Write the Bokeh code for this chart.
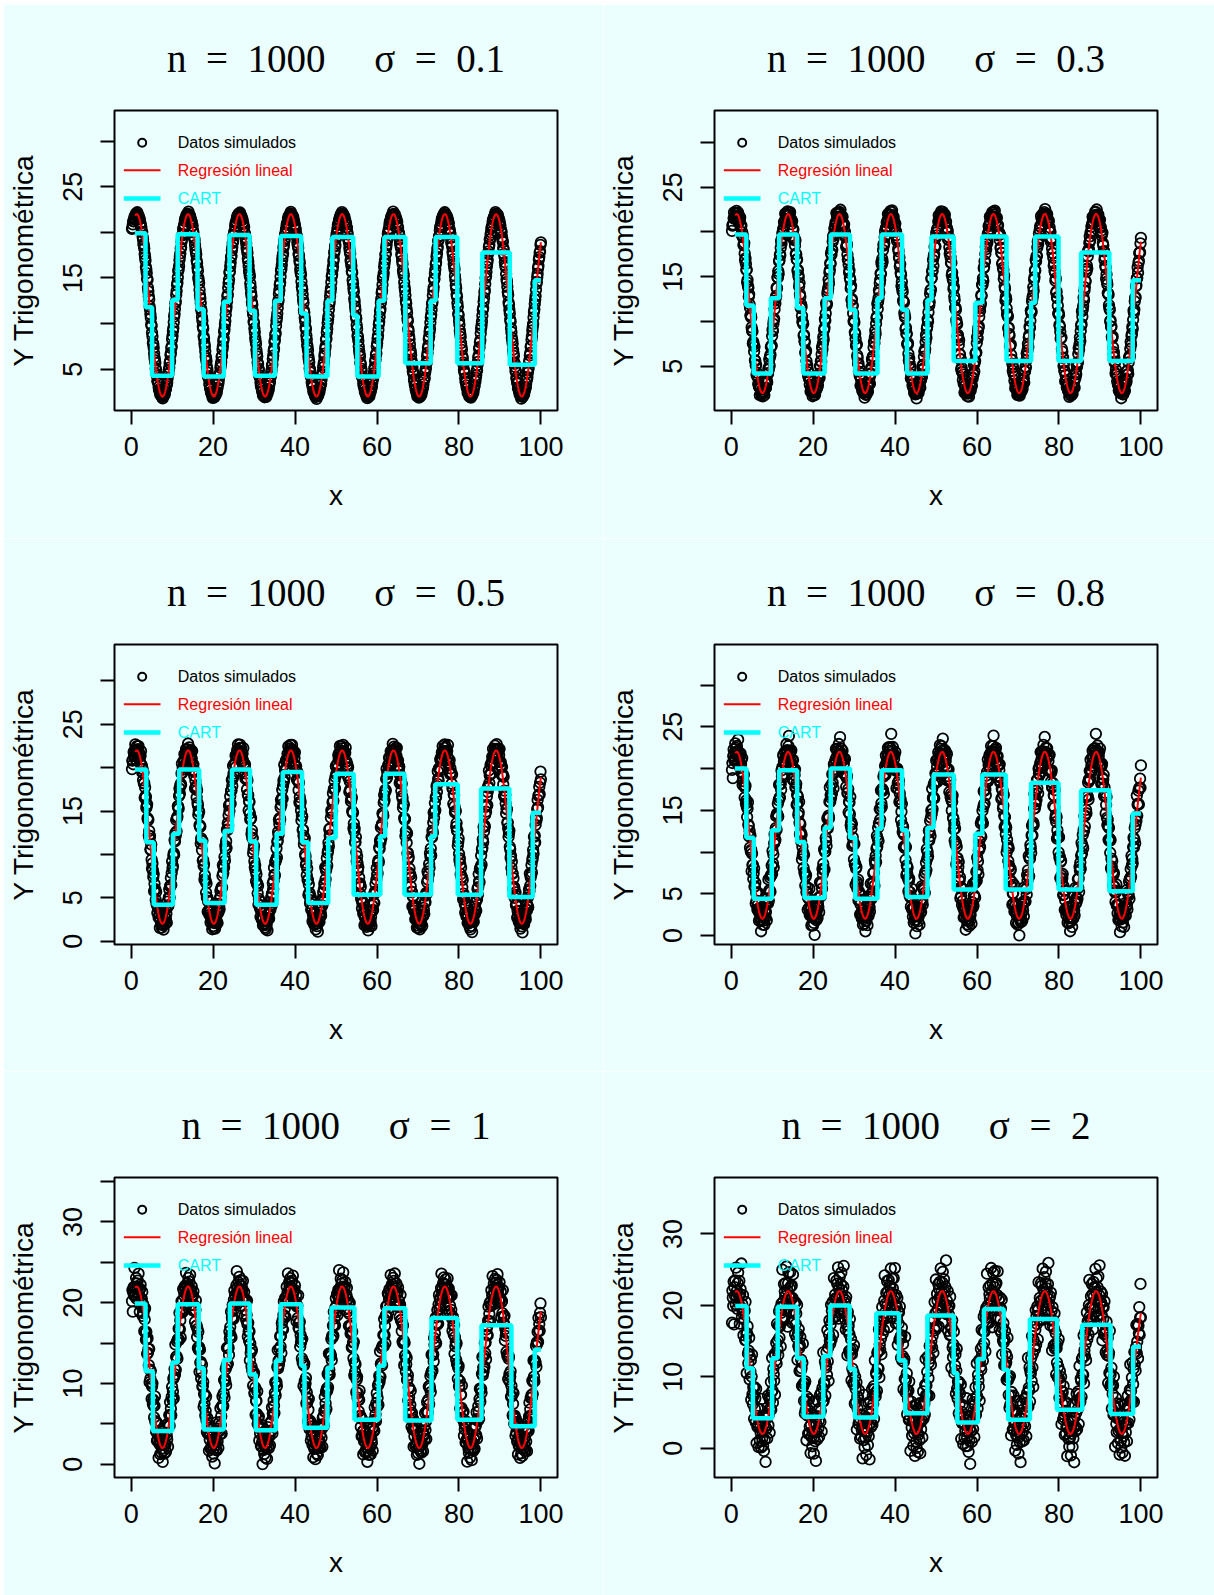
import numpy as np
from bokeh.plotting import figure
from bokeh.layouts import column, row
from bokeh.models import Range1d, FixedTicker, Spacer, Title
from bokeh.core.properties import value
from bokeh.embed import file_html
from bokeh.resources import INLINE

# ---------------------------------------------------------------------------
# Simulation settings (one panel per noise level)
# ---------------------------------------------------------------------------
n_obs = 1000
sigmas = [0.1, 0.3, 0.5, 0.8, 1.0, 2.0]
sigma_labels = ["0.1", "0.3", "0.5", "0.8", "1", "2"]

# design points of the simulated sample
x_first, x_last = 0.2, 100.0

# trigonometric regression fit (red curve)
fit_intercept = 12.0
fit_amplitude = 10.0
fit_period = 12.53
fit_peak_x = 1.37
fit_x_first, fit_x_last = 1.0, 100.0

# standardised residuals of the simulated sample
z_resid = [0.42, -1.13, 0.27, 1.58, -0.66, -0.08, 0.91, -1.72, 0.35, -0.41,
           1.21, -0.95, 0.06, 2.23, -0.29, -1.38, 0.74, 0.12, -0.57, 1.04,
           -2.05, 0.48, -0.18, 0.83, -0.87, 1.66, -0.35, 0.02, -1.24, 0.59,
           1.37, -0.71, -0.13, 0.96, -1.95, 0.21, 0.67, -0.49, 2.71, -0.93,
           0.15, -0.26, 1.12, -1.51, 0.38, -0.04, 0.79, -1.06, 1.83, -0.62,
           0.09, -2.48, 0.55, 1.29, -0.38, -0.81, 0.31, 1.47, -1.19, 0.63,
           -0.15, 0.88, -1.62, 0.24, 2.02, -0.52, -0.97, 0.44, 0.05, -1.33,
           1.09, -0.23, 0.71, -0.77, 1.74, -1.88, 0.18, -0.44, 0.99, -0.11,
           -1.47, 0.57, 1.41, -0.69, 0.33, -0.02, -1.01, 0.86, 2.44, -0.31,
           0.13, -0.84, 0.61, -1.27, 1.19, -0.58, 0.26, -2.31, 0.93, -0.19]

# CART fits: split points and leaf means
cart_breaks_1 = [0.9, 3.5, 5.1, 10.0, 11.35, 16.2, 17.7, 22.6, 24.0, 28.9, 30.2,
                 35.1, 36.5, 41.5, 42.8, 47.9, 49.1, 54.2, 55.2, 60.4, 61.8,
                 66.9, 73.1, 74.3, 79.6, 85.7, 92.4, 98.5, 100.0]
cart_levels_1 = [19.9, 11.8, 4.3, 12.6, 19.8, 11.6, 4.2, 12.4, 19.7, 11.4, 4.3,
                 12.5, 19.6, 11.1, 4.2, 12.5, 19.5, 10.9, 4.2, 12.5, 19.5,
                 5.65, 12.5, 19.5, 5.65, 17.8, 5.5, 14.75]

cart_breaks_2 = [0.9, 3.7, 5.5, 9.7, 11.7, 16.1, 17.6, 22.8, 24.3, 29.0, 30.3,
                 35.7, 36.7, 41.7, 42.9, 47.9, 48.9, 54.3, 59.6, 61.3, 67.2,
                 73.2, 74.2, 79.9, 85.4, 92.3, 98.0, 100.0]
cart_levels_2 = [19.7, 11.8, 4.2, 12.6, 19.7, 11.5, 4.2, 12.6, 19.7, 11.3, 4.2,
                 12.6, 19.7, 11.3, 4.2, 12.4, 19.5, 5.6, 12.1, 19.5, 5.6,
                 12.1, 19.5, 5.6, 17.7, 5.6, 14.6]

cart_breaks_3 = [0.9, 3.7, 5.5, 10.2, 11.7, 16.6, 18.1, 22.8, 24.6, 29.0, 30.5,
                 35.5, 37.0, 41.7, 43.2, 48.1, 49.9, 54.3, 60.8, 62.0, 66.7,
                 73.2, 74.2, 79.7, 85.4, 92.3, 98.0, 100.0]
cart_levels_3 = [19.8, 11.4, 4.2, 12.4, 19.8, 11.6, 4.4, 12.7, 19.8, 11.5, 4.2,
                 12.4, 19.5, 11.4, 4.4, 11.9, 19.3, 5.35, 12.1, 19.3, 5.35,
                 12.1, 18.1, 5.35, 17.6, 5.1, 14.8]

cart_breaks_4 = [0.9, 3.7, 5.5, 9.9, 11.7, 16.1, 17.9, 22.8, 24.3, 29.0, 30.3,
                 35.7, 36.7, 41.7, 42.9, 47.9, 49.4, 54.3, 59.6, 61.3, 67.0,
                 73.2, 79.9, 85.4, 92.3, 98.0, 100.0]
cart_levels_4 = [20.0, 11.7, 4.4, 12.6, 19.8, 11.2, 4.5, 12.9, 20.0, 11.7, 4.4,
                 12.8, 19.8, 12.6, 4.6, 12.9, 19.3, 5.5, 12.2, 19.3, 5.5,
                 18.3, 5.5, 17.4, 5.3, 14.6]

cart_breaks_5 = [0.9, 3.5, 5.3, 10.0, 11.35, 16.5, 17.7, 22.6, 24.1, 28.9, 30.4,
                 35.3, 36.5, 41.5, 42.3, 47.9, 48.9, 54.5, 60.4, 61.8, 66.9,
                 73.3, 79.6, 85.5, 92.8, 98.5, 100.0]
cart_levels_5 = [19.9, 11.5, 4.1, 12.6, 19.8, 11.9, 4.3, 12.9, 19.9, 11.1, 4.2,
                 12.8, 19.8, 12.2, 4.5, 11.9, 19.4, 5.5, 12.2, 19.3, 5.4,
                 18.1, 5.5, 17.2, 4.7, 14.2]

cart_breaks_6 = [1.0, 3.77, 5.3, 10.0, 11.35, 16.1, 17.7, 22.5, 24.2, 28.9, 30.2,
                 35.4, 40.95, 42.5, 47.9, 54.3, 55.2, 60.2, 61.7, 66.5, 67.6,
                 72.9, 79.5, 85.7, 92.6, 98.1, 100.0]
cart_levels_6 = [19.9, 11.2, 4.2, 12.6, 19.8, 12.6, 4.4, 12.9, 20.0, 11.1, 4.3,
                 18.9, 12.3, 4.9, 18.6, 10.5, 3.6, 12.5, 19.5, 11.0, 4.0,
                 18.1, 5.4, 17.3, 4.8, 14.2]

cart_breaks = [cart_breaks_1, cart_breaks_2, cart_breaks_3,
               cart_breaks_4, cart_breaks_5, cart_breaks_6]
cart_levels = [cart_levels_1, cart_levels_2, cart_levels_3,
               cart_levels_4, cart_levels_5, cart_levels_6]

# axis limits and ticks
x_lim = (-4.07, 104.05)
x_ticks = [0, 20, 40, 60, 80, 100]
y_lims = [(0.48, 33.35), (0.07, 33.55), (-0.38, 34.2),
          (-1.08, 34.86), (-1.65, 35.5), (-4.09, 37.9)]
y_ticks = [[5, 10, 15, 20, 25, 30], [5, 10, 15, 20, 25, 30],
           [0, 5, 10, 15, 20, 25, 30], [0, 5, 10, 15, 20, 25, 30],
           [0, 5, 10, 15, 20, 25, 30, 35], [0, 10, 20, 30]]
y_tick_labels = [["5", "", "15", "", "25", ""], ["5", "", "15", "", "25", ""],
                 ["0", "5", "", "15", "", "25", ""], ["0", "5", "", "15", "", "25", ""],
                 ["0", "", "10", "", "20", "", "30", ""], ["0", "10", "20", "30"]]

legend_labels = ["Datos simulados", "Regresión lineal", "CART"]
y_axis_title = "Y Trigonométrica"

# ---------------------------------------------------------------------------
BG = "#EAFFFE"
RED = "#FF0000"
CYAN = "#00FFFF"
SANS = "Liberation Sans"
SERIF = "Liberation Serif"

FRAME_W, FRAME_H = 443, 301
LEFT, TOP = 111, 105
NB = "\u00a0"


def fitted(x):
    return fit_intercept + fit_amplitude * np.cos(2 * np.pi * (x - fit_peak_x) / fit_period)


def make_panel(i, width, height):
    ylo, yhi = y_lims[i]
    p = figure(width=width, height=height,
               x_range=Range1d(*x_lim), y_range=Range1d(ylo, yhi),
               output_backend="svg", toolbar_location=None,
               min_border_left=LEFT, min_border_top=TOP,
               min_border_right=width - LEFT - FRAME_W,
               min_border_bottom=height - TOP - FRAME_H)
    p.background_fill_color = BG
    p.border_fill_color = BG
    p.outline_line_color = "black"
    p.outline_line_width = 2
    p.grid.visible = False

    title_text = ("n" + NB * 2 + "=" + NB * 2 + "1000" + NB * 5 +
                  "\u03c3" + NB * 2 + "=" + NB * 2 + sigma_labels[i])
    p.title = Title(text=title_text, align="center", text_font=SERIF,
                    text_font_size="39px", text_font_style="normal",
                    text_color="black", standoff=61)

    # axes
    for ax in (p.xaxis[0], p.yaxis[0]):
        ax.axis_line_color = None
        ax.major_tick_out = 14
        ax.major_tick_in = 0
        ax.major_tick_line_width = 2
        ax.minor_tick_line_color = None
        ax.major_label_text_font = SANS
        ax.major_label_text_font_size = "27px"
        ax.major_label_text_color = "black"
        ax.axis_label_text_font = SANS
        ax.axis_label_text_font_size = "28px"
        ax.axis_label_text_font_style = "normal"
        ax.axis_label_text_color = "black"
    p.xaxis.ticker = FixedTicker(ticks=x_ticks)
    p.xaxis.axis_label = "x"
    p.xaxis.major_label_standoff = 12
    p.xaxis.axis_label_standoff = 21
    p.yaxis.ticker = FixedTicker(ticks=y_ticks[i])
    p.yaxis.major_label_overrides = {t: s for t, s in zip(y_ticks[i], y_tick_labels[i])}
    p.yaxis.major_label_orientation = "vertical"
    p.yaxis.major_label_standoff = 18
    p.yaxis.axis_label = y_axis_title
    p.yaxis.axis_label_standoff = 22

    xpx = (x_lim[1] - x_lim[0]) / FRAME_W
    ypx = (yhi - ylo) / FRAME_H
    gx = lambda d: x_lim[0] + d * xpx
    gy = lambda d: yhi - d * ypx

    # simulated sample
    xs = np.linspace(x_first, x_last, n_obs)
    z = np.resize(np.roll(np.array(z_resid), 17 * i), n_obs)
    ys = fitted(xs) + sigmas[i] * z
    p.scatter(xs, ys, marker="circle", size=10.5, fill_color=None,
              line_color="black", line_width=1.8)

    # trigonometric regression
    xf = np.linspace(fit_x_first, fit_x_last, 600)
    p.line(xf, fitted(xf), line_color=RED, line_width=2)

    # CART step function
    b, lv = cart_breaks[i], cart_levels[i]
    sx, sy = [], []
    for k, level in enumerate(lv):
        sx += [b[k], b[k + 1]]
        sy += [level, level]
    p.line(sx, sy, line_color=CYAN, line_width=4.5)

    # legend (top-left corner of the frame, placed in pixel offsets)
    rows_dy = [32.4, 60.0, 88.4]
    p.scatter([gx(27.7)], [gy(rows_dy[0])], marker="circle", size=8,
              fill_color=None, line_color="black", line_width=2)
    p.line([gx(9.3), gx(46.0)], [gy(rows_dy[1])] * 2, line_color=RED, line_width=2)
    p.line([gx(9.3), gx(46.0)], [gy(rows_dy[2])] * 2, line_color=CYAN, line_width=4.5)
    for lab, dy, col in zip(legend_labels, rows_dy, ["black", RED, CYAN]):
        p.text([gx(63.3)], [gy(dy)], text=[lab], text_color=col,
               text_font=value(SANS), text_font_size=value("16px"),
               text_baseline="middle", text_align="left")
    return p


row_heights = [534, 533, 524]
col_widths = [600, 611]
rows = []
for r in range(3):
    rows.append(row(make_panel(2 * r, col_widths[0], row_heights[r]),
                    make_panel(2 * r + 1, col_widths[1], row_heights[r])))

layout = column(Spacer(height=4),
                row(Spacer(width=3), column(*rows)))

open("out.html", "w").write(file_html(layout, INLINE))
